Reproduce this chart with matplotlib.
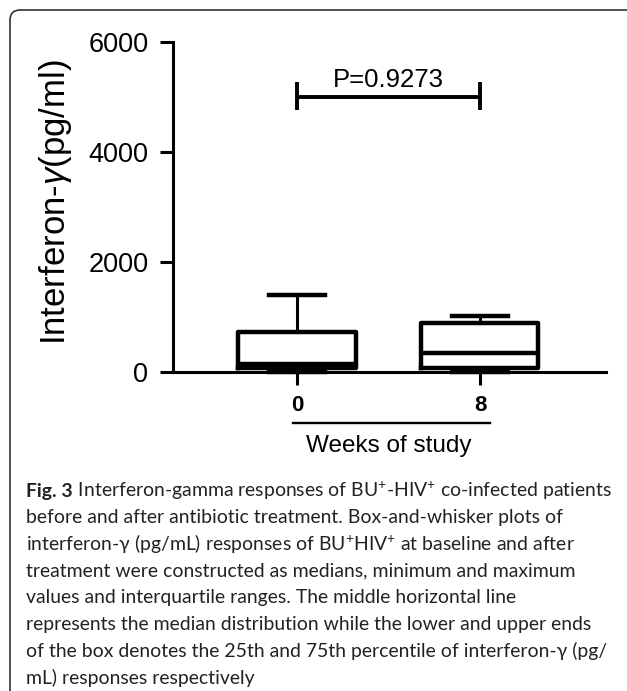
import matplotlib
matplotlib.use('Agg')
import matplotlib.pyplot as plt
from matplotlib.patches import FancyBboxPatch
from matplotlib.transforms import IdentityTransform, blended_transform_factory
from matplotlib.lines import Line2D

# ---- data ----
weeks = ['0', '8']
q1 = [65, 60]
medians = [140, 335]
q3 = [720, 880]
whisker_low = [0, 0]
whisker_high = [1400, 1010]
p_label = 'P=0.9273'
bracket_y = 5000
bracket_tips = [4760, 5270]
yticks = [0, 2000, 4000, 6000]

caption_bold = 'Fig. 3'
caption_lines = [
    ' Interferon-gamma responses of BU$^{+}$-HIV$^{+}$ co-infected patients',
    'before and after antibiotic treatment. Box-and-whisker plots of',
    'interferon-γ (pg/mL) responses of BU$^{+}$HIV$^{+}$ at baseline and after',
    'treatment were constructed as medians, minimum and maximum',
    'values and interquartile ranges. The middle horizontal line',
    'represents the median distribution while the lower and upper ends',
    'of the box denotes the 25th and 75th percentile of interferon-γ (pg/',
    'mL) responses respectively',
]

plt.rcParams['mathtext.fontset'] = 'custom'
plt.rcParams['mathtext.rm'] = 'Lato'
plt.rcParams['mathtext.it'] = 'Liberation Sans:italic'
plt.rcParams['mathtext.bf'] = 'Lato:bold'

CH = 'Liberation Sans'
W, H = 627, 691
fig = plt.figure(figsize=(W / 100, H / 100), dpi=100)
fig.patch.set_facecolor('white')

ax = fig.add_axes([173 / W, (H - 371.7) / H, 433 / W, 330 / H])

stats = [dict(med=m, q1=a, q3=b, whislo=lo, whishi=hi, fliers=[], label=l)
         for m, a, b, lo, hi, l in zip(medians, q1, q3, whisker_low, whisker_high, weeks)]
arts = ax.bxp(stats, positions=[0, 1], widths=0.64, capwidths=0.31, showfliers=False,
              boxprops=dict(color='black', lw=3.2),
              whiskerprops=dict(color='black', lw=2.2),
              capprops=dict(color='black', lw=3.2),
              medianprops=dict(color='black', lw=3.2, solid_capstyle='butt'))
for k, lst in arts.items():
    for a in lst:
        a.set_clip_on(False)

ax.set_xlim(-0.678, 1.689)
ax.set_ylim(0, 6000)
for s in ['top', 'right']:
    ax.spines[s].set_visible(False)
for s in ['left', 'bottom']:
    ax.spines[s].set_linewidth(2.2)
ax.set_yticks(yticks)
ax.set_xticks([0, 1])
ax.set_xticklabels(weeks, fontfamily=CH, fontweight='bold')
for lab in ax.get_yticklabels():
    lab.set_fontfamily(CH)
ax.tick_params(axis='y', length=9.4, width=2.2, pad=8.4, labelsize=19.5)
ax.tick_params(axis='x', length=9, width=2.2, pad=8, labelsize=16)

# significance bracket
ax.plot([0, 1], [bracket_y, bracket_y], color='black', lw=2.8, solid_capstyle='butt')
for xb in [0, 1]:
    ax.plot([xb, xb], bracket_tips, color='black', lw=2.8, solid_capstyle='butt')
ax.text(0.5, 5170, p_label, ha='center', va='baseline', fontsize=18.5, fontfamily=CH)

# x label with underline
trans = blended_transform_factory(ax.transData, ax.transAxes)
ax.text(0.5, -0.2424, 'Weeks of study', transform=trans, ha='center', va='baseline',
        fontsize=17.5, fontfamily=CH)
ax.add_line(Line2D([-0.022, 1.055], [-0.156, -0.156], transform=trans, lw=1.7,
                   color='black', clip_on=False))

fig.text(55 / W, (H - 202) / H, 'Interferon-$\\gamma$(pg/ml)', rotation=90,
         ha='center', va='center', fontsize=25, fontfamily=CH)

# frame
frame = FancyBboxPatch((10, -30), 720, H - 10 + 30,
                       boxstyle='round,pad=0,rounding_size=10',
                       transform=IdentityTransform(), fill=False,
                       edgecolor='#222222', lw=1.1)
fig.add_artist(frame)

# caption
renderer = fig.canvas.get_renderer()
x0 = 26
base0 = 496.7
step = 26.7
fam = ['Lato', 'DejaVu Sans']


def draw_caption(fs):
    texts = []
    tb = fig.text(x0 / W, (H - base0) / H, caption_bold, fontsize=fs, fontweight='bold',
                  family=fam, va='baseline', color='#222222')
    texts.append(tb)
    bb = tb.get_window_extent(renderer)
    end = bb.x1
    for i, line in enumerate(caption_lines):
        y = (H - (base0 + i * step)) / H
        if i == 0:
            t = fig.text(bb.x1 / W, y, line, fontsize=fs, family=fam, va='baseline',
                         color='#222222')
            end = t.get_window_extent(renderer).x1
        else:
            t = fig.text(x0 / W, y, line, fontsize=fs, family=fam, va='baseline',
                         color='#222222')
        texts.append(t)
    return texts, end


texts, end = draw_caption(12)
fs = 12 * (612 - x0) / (end - x0)
for t in texts:
    t.remove()
draw_caption(fs)

fig.savefig('out.png', dpi=100, facecolor='white')
